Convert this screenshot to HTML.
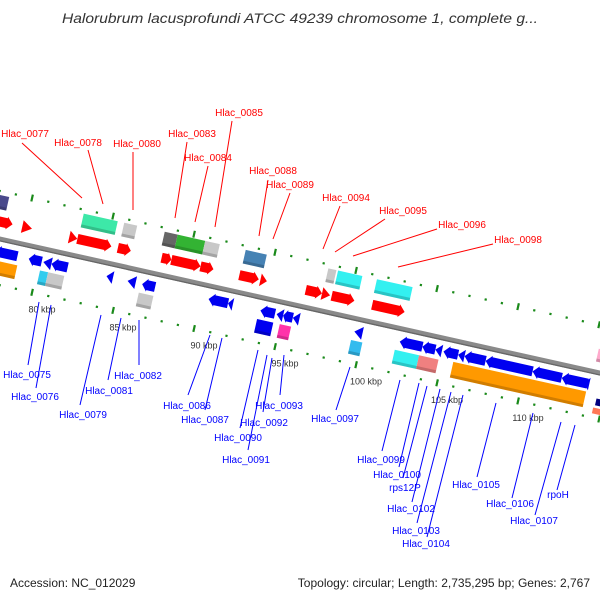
<!DOCTYPE html>
<html><head><meta charset="utf-8"><style>
html,body{margin:0;padding:0;background:#fff;}
svg{display:block;font-family:"Liberation Sans",sans-serif;}
</style></head><body>
<svg id="map" width="600" height="600" viewBox="0 0 600 600">
<text x="300" y="23" text-anchor="middle" font-size="13.5" font-style="italic" fill="#333" textLength="476" lengthAdjust="spacingAndGlyphs">Halorubrum lacusprofundi ATCC 49239 chromosome 1, complete g...</text>
<g id="frame" transform="translate(0,239) rotate(12.6)"></g>
<g id="labels"></g>
<text x="10" y="587" font-size="12" fill="#222">Accession: NC_012029</text>
<text x="590" y="587" font-size="12" fill="#222" text-anchor="end">Topology: circular; Length: 2,735,295 bp; Genes: 2,767</text>
</svg>
<script>
// kbp ticks
var tickKbp = [78,79,80,81,82,83,84,85,86,87,88,89,90,91,92,93,94,95,96,97,98,99,100,101,102,103,104,105,106,107,108,109,110,111,112,113,114,115,116,117];
var tickLabels = ["80 kbp","85 kbp","90 kbp","95 kbp","100 kbp","105 kbp","110 kbp"];
var tickLabelKbp = [80,85,90,95,100,105,110];
// genes (kbp), grouped: forward lane -1 (15), forward lane -2 (10), reverse lane 1 (24), reverse lane 2 (10), extra (2)
var geneStart = [
 77.7,79.4,82.3,82.8,85.3,88.0,88.6,90.4,92.8,94.1,96.9,97.9,98.5,101.0,114.9,
 77.7,83.1,85.6,88.1,88.9,90.6,93.1,98.2,98.8,101.2,
 77.7,79.8,80.7,81.2,84.6,85.9,86.8,90.9,92.1,94.1,95.1,95.5,96.1,99.9,102.7,104.1,104.9,105.4,106.3,106.7,108.0,110.9,112.7,114.1,
 77.7,80.4,80.9,86.5,93.8,95.2,99.6,102.3,103.8,105.9,
 114.8,114.6];
var geneEnd = [
 78.8,80.0,82.8,84.9,86.1,88.6,90.4,91.2,94.0,94.5,97.9,98.4,99.9,103.0,115.4,
 78.5,85.2,86.4,88.9,90.6,91.5,94.4,98.7,100.3,103.4,
 79.1,80.6,81.2,82.2,85.0,86.4,87.6,92.1,92.4,95.0,95.5,96.1,96.5,100.4,104.1,104.9,105.3,106.3,106.7,108.0,110.9,112.7,114.3,114.4,
 79.0,80.9,81.9,87.4,94.8,95.9,100.3,103.8,105.0,114.1,
 115.4,115.4];
var geneLane = [
 -1,-1,-1,-1,-1,-1,-1,-1,-1,-1,-1,-1,-1,-1,-1,
 -2,-2,-2,-2,-2,-2,-2,-2,-2,-2,
 1,1,1,1,1,1,1,1,1,1,1,1,1,1,1,1,1,1,1,1,1,1,1,1,
 2,2,2,2,2,2,2,2,2,2,
 2,3];
var geneColor = [
 "#f00","#f00","#f00","#f00","#f00","#f00","#f00","#f00","#f00","#f00","#f00","#f00","#f00","#f00","#ffaacc",
 "#4a4a8c","#3de8a8","#c8c8c8","#666666","#33b333","#c8c8c8","#4682b4","#c8c8c8","#33f0f0","#33f0f0",
 "#0000f0","#0000f0","#0000f0","#0000f0","#0000f0","#0000f0","#0000f0","#0000f0","#0000f0","#0000f0","#0000f0","#0000f0","#0000f0","#0000f0","#0000f0","#0000f0","#0000f0","#0000f0","#0000f0","#0000f0","#0000f0","#0000f0","#0000f0","#0000f0",
 "#ff9900","#33ccee","#c8c8c8","#c8c8c8","#0000f0","#ff33aa","#33bbee","#33f0f0","#f08080","#ff9900",
 "#000080","#ff7755"];
var geneShape = [
 "a","t","t","a","a","a","a","a","a","t","a","t","a","a","b",
 "b","b","b","b","b","b","b","b","b","b",
 "a","a","t","a","t","t","a","a","t","a","t","a","t","t","a","a","t","a","t","a","a","a","a","t",
 "b","b","b","b","b","b","b","b","b","b",
 "b","b"];
// labels
var labelText = ["Hlac_0077","Hlac_0078","Hlac_0080","Hlac_0083","Hlac_0084","Hlac_0085","Hlac_0088","Hlac_0089","Hlac_0094","Hlac_0095","Hlac_0096","Hlac_0098",
 "Hlac_0075","Hlac_0076","Hlac_0079","Hlac_0081","Hlac_0082","Hlac_0086","Hlac_0087","Hlac_0090","Hlac_0091","Hlac_0092","Hlac_0093","Hlac_0097","Hlac_0099","Hlac_0100","rps12P","Hlac_0102","Hlac_0103","Hlac_0104","Hlac_0105","Hlac_0106","Hlac_0107","rpoH"];
var labelX = [25,78,137,192,208,239,273,290,346,403,462,518, 27,35,83,109,138,187,205,238,246,264,279,335,381,397,405,411,416,426,476,510,534,558];
var labelY = [133,142,143,133,157,112,170,184,197,210,224,239, 374,396,414,390,375,405,419,437,459,422,405,418,459,474,487,508,530,543,484,503,520,494];
var lineX1 = [22,88,133,187,208,232,268,290,340,385,437,493, 28,36,80,108,139,188,205,240,248,263,280,336,382,399,403,412,417,427,477,512,535,557];
var lineY1 = [143,150,152,142,166,121,180,193,206,219,229,244, 365,388,405,380,365,395,410,428,450,412,395,410,451,467,478,502,523,537,477,498,515,490];
var lineX2 = [82,103,133,175,195,215,259,273,323,335,353,398, 39,51,101,121,139,210,222,258,267,272,284,350,400,419,427,440,451,463,496,533,561,575];
var lineY2 = [198,204,210,218,222,227,236,239,249,252,256,267, 302,305,315,318,320,335,338,350,355,358,355,367,380,383,386,389,392,395,403,413,422,425];

var NS="http://www.w3.org/2000/svg";
var SIN=Math.sin(12.6*Math.PI/180), COS=Math.cos(12.6*Math.PI/180);
function U(k,v){return (32+(k-80)*16.2 + v*SIN)/COS;}
function laneV(l){return l===-1?-17:l===-2?-36:l===1?13:l===2?29:38;}
var frame=document.getElementById('frame');
var labelsG=document.getElementById('labels');
function mk(tag,attrs,parent){var e=document.createElementNS(NS,tag);for(var a in attrs)e.setAttribute(a,attrs[a]);parent.appendChild(e);return e;}

var bb=mk('rect',{x:-20,y:-2.5,width:680,height:5,fill:'#8a8a8a'},frame);


mk('rect',{x:-20,y:1.2,width:680,height:1.3,fill:'#666'},frame);

var rows=[-47,45];
for(var r=0;r<rows.length;r++){
  for(var i=0;i<tickKbp.length;i++){
    var k=tickKbp[i], v=rows[r], u=U(k,v);
    var t;
    if(k%5===0){t=mk('rect',{x:u-1,y:v-3.5,width:2.2,height:7,fill:'#1a8a1a'},frame);}
    else{t=mk('rect',{x:u-1,y:v-1,width:2.2,height:2.2,fill:'#1a8a1a'},frame);}
    
    
  }
}
for(var i=0;i<tickLabels.length;i++){
  var k=tickLabelKbp[i];
  var u=U(k,45), v=45;
  var sx=u*COS - v*SIN, sy=239+u*SIN+v*COS;
  var tl=mk('text',{x:sx+10,y:sy+20,'font-size':9,fill:'#333','text-anchor':'middle'},labelsG);
  tl.textContent=tickLabels[i];
  
  
}

for(var i=0;i<geneStart.length;i++){
  var lane=geneLane[i], v=laneV(lane);
  var u1=U(geneStart[i],v), u2=U(geneEnd[i],v);
  var h=(lane===-2||lane===2)?14:13;
  if(lane===3)h=6;
  if(geneColor[i]==="#000080")h=7;
  if(geneColor[i]==="#ff9900"&&geneEnd[i]-geneStart[i]>3)h=16;
  var y0=v-h/2, y1=v+h/2, g;
  var sh=geneShape[i], d;
  if(sh==='b'){d='M'+u1+' '+y0+'H'+u2+'V'+y1+'H'+u1+'Z';}
  else{
    var head=sh==='t'?(u2-u1):Math.min(6,(u2-u1)*0.4);
    if(lane<0){
      d=sh==='t'?'M'+u1+' '+y0+'L'+u2+' '+v+'L'+u1+' '+y1+'Z'
        :'M'+u1+' '+(y0+1.5)+'H'+(u2-head)+'V'+y0+'L'+u2+' '+v+'L'+(u2-head)+' '+y1+'V'+(y1-1.5)+'H'+u1+'Z';
    } else {
      d=sh==='t'?'M'+u2+' '+y0+'L'+u1+' '+v+'L'+u2+' '+y1+'Z'
        :'M'+u2+' '+(y0+1.5)+'H'+(u1+head)+'V'+y0+'L'+u1+' '+v+'L'+(u1+head)+' '+y1+'V'+(y1-1.5)+'H'+u2+'Z';
    }
  }
  g=mk('path',{d:d,fill:geneColor[i]},frame);
  
  
  if(sh==='b'&&h>8){mk('rect',{x:u1,y:y1-3,width:Math.max(0,u2-u1),height:3,fill:'#000','fill-opacity':0.18},frame);}
}

for(var i=0;i<labelText.length;i++){
  var col=i<12?'#f00':'#00f';
  var ln=mk('line',{x1:lineX1[i],y1:lineY1[i],x2:lineX2[i],y2:lineY2[i],stroke:col,'stroke-width':1},labelsG);
  
  
  var tx=mk('text',{x:labelX[i],y:labelY[i]+4,'font-size':10,fill:col,'text-anchor':'middle'},labelsG);
  tx.textContent=labelText[i];
  
  
}
</script>
</body></html>
